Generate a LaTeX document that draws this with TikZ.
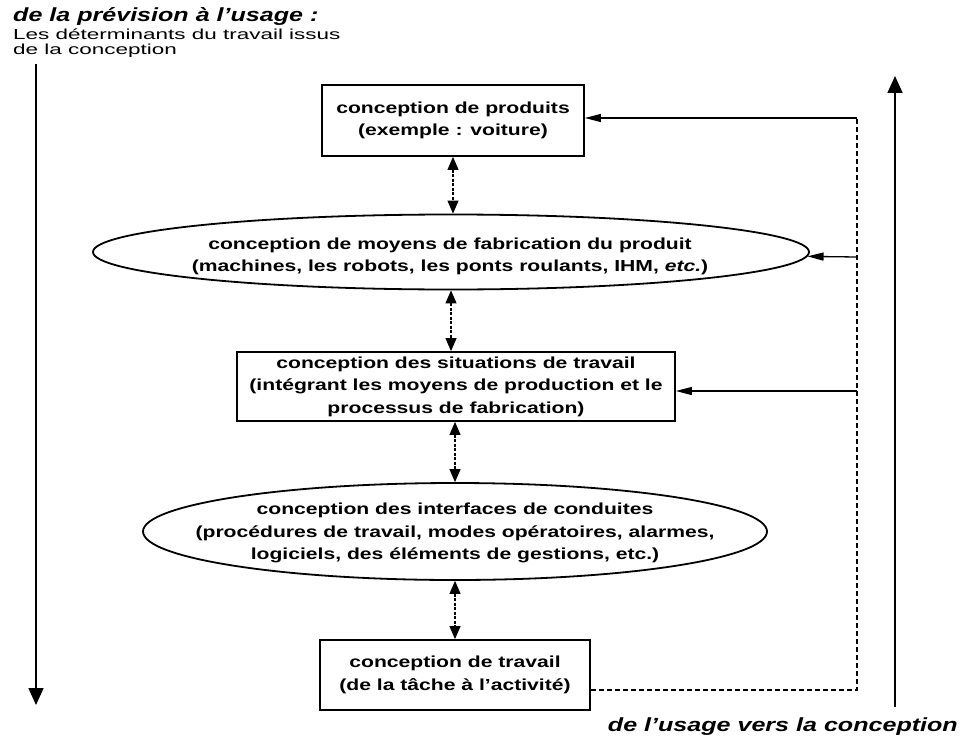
\documentclass[tikz,border=0pt]{standalone}
\usepackage{fontspec}
\setmainfont{Liberation Sans}[FakeStretch=1.32]
\newfontfamily\hdrreg{Liberation Sans}[FakeStretch=1.55]
\usetikzlibrary{arrows.meta,shapes.geometric}
\begin{document}
\begin{tikzpicture}[x=1pt,y=-1pt,
  boxtext/.style={font=\bfseries\fontsize{16}{22.5}\selectfont, align=center},
  rbox/.style={draw, line width=1.8pt, inner sep=0pt, boxtext},
  oval/.style={draw, ellipse, line width=1.8pt, inner sep=0pt},
  link/.style={line width=1.1pt, dash pattern=on 3pt off 1.5pt,
    {Triangle[length=13pt,width=11pt]}-{Triangle[length=13pt,width=11pt]}},
  bigarrow/.style={line width=1.6pt, -{Triangle[length=17pt,width=15pt]}},
  fbarrow/.style={line width=1.3pt, -{Triangle[length=16pt,width=8pt]}},
  fbdash/.style={line width=1.3pt, dash pattern=on 5pt off 3pt},
  hdrbold/.style={inner sep=0pt, font=\bfseries\itshape\fontsize{19}{22}\selectfont},
  hdrtext/.style={anchor=base west, inner sep=0pt, font=\hdrreg\fontsize{14.5}{16}\selectfont}
]
\useasboundingbox (0,0) rectangle (965,749);

% header texts
\node[hdrbold, anchor=base west] (h1) at (13,22) {de la prévision à l’usage :};
\node[hdrtext] (h2) at (13,40) {Les déterminants du travail issus};
\node[hdrtext] (h3) at (13,55) {de la conception};
\node[hdrbold, anchor=base east] (h4) at (958,731) {de l’usage vers la conception};

% nodes
\node[rbox, minimum width=262pt, minimum height=71pt] (b1) at (453,120.5)
  {conception de produits\\(exemple : voiture)};
\node[oval, minimum width=716pt, minimum height=75pt] (e1) at (451,252) {};
\node[boxtext] (t1) at (450,256.5)
  {conception de moyens de fabrication du produit\\(machines, les robots, les ponts roulants, IHM, \textit{etc.})};
\node[rbox, minimum width=438pt, minimum height=69pt] (b2) at (456,386.5)
  {conception des situations de travail\\(intégrant les moyens de production et le\\processus de fabrication)};
\node[oval, minimum width=624pt, minimum height=97pt] (e2) at (455,531.5) {};
\node[boxtext] (t2) at (455,533)
  {conception des interfaces de conduites\\(procédures de travail, modes opératoires, alarmes,\\logiciels, des éléments de gestions, etc.)};
\node[rbox, minimum width=270pt, minimum height=70pt] (b3) at (455,675)
  {conception de travail\\(de la tâche à l’activité)};

% big side arrows
\coordinate (L0) at (36,64);
\coordinate (L1) at (36,705);
\coordinate (R0) at (895,707);
\coordinate (R1) at (895,76);
\draw[bigarrow] (L0) -- (L1);
\draw[bigarrow] (R0) -- (R1);

% links between levels
\draw[link] (b1.south) -- (b1.south |- e1.north);
\draw[link] (e1.south) -- (e1.south |- b2.north);
\draw[link] (b2.south -| e2.north) -- (e2.north);
\draw[link] (e2.south) -- (b3.north);

% feedback loop
\coordinate (f1) at (857,118);
\coordinate (f2) at (857,257);
\coordinate (f3) at (857,391);
\coordinate (f4) at (857,690);
\draw[fbdash] ([yshift=-15pt]b3.east) -- (f4) -- (f1);
\draw[fbarrow] (f1) -- (f1 -| b1.east);
\draw[fbarrow] (f2) -- (e1);
\draw[fbarrow] (f3) -- (f3 -| b2.east);
\end{tikzpicture}
\end{document}
